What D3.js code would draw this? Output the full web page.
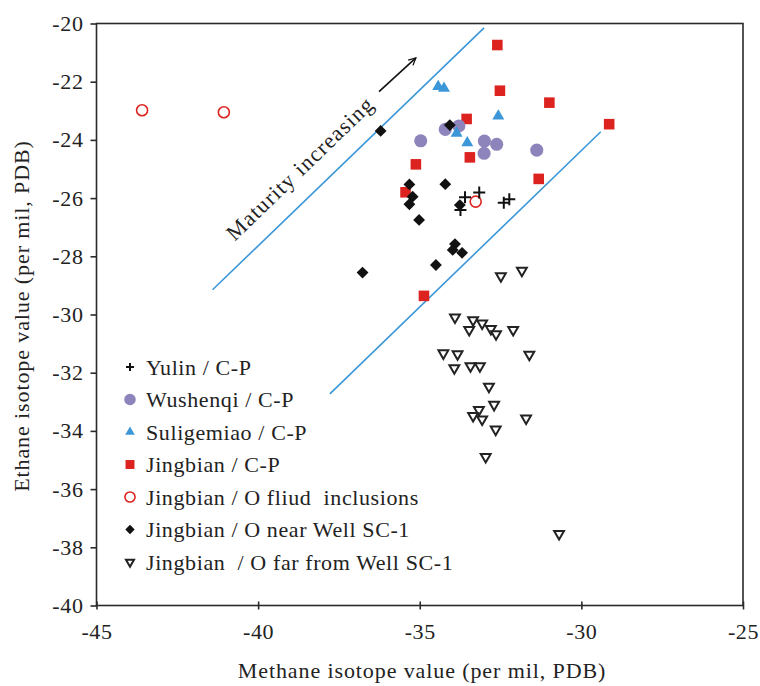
<!DOCTYPE html>
<html lang="en">
<head>
<meta charset="utf-8">
<title>Methane vs ethane isotope</title>
<script src="https://d3js.org/d3.v7.min.js"></script>
<style>
  body { margin: 0; background: #fff; }
  text { font-family: "Liberation Serif", "Times New Roman", serif; fill: #222; }
</style>
</head>
<body>
<script>
// ---- data (methane d13C, ethane d13C) ----
var yulinX = [-33.60, -33.16, -33.74, -32.40, -32.23];
var yulinY = [-25.97, -25.81, -26.41, -26.16, -26.04];

var wushenqiX = [-34.97, -34.21, -33.79, -33.00, -32.62, -33.01, -31.38];
var wushenqiY = [-24.03, -23.64, -23.52, -24.04, -24.15, -24.46, -24.35];

var suligemiaoX = [-34.43, -34.25, -32.57, -33.86, -33.53];
var suligemiaoY = [-22.17, -22.23, -23.18, -23.77, -24.10];

var jingbianCPX = [-32.60, -32.52, -30.99, -33.55, -33.45, -35.12, -31.32, -35.44, -34.87, -29.14];
var jingbianCPY = [-20.74, -22.31, -22.72, -23.28, -24.60, -24.84, -25.34, -25.80, -29.36, -23.46];

var inclusionX = [-43.59, -41.06, -33.27];
var inclusionY = [-22.98, -23.05, -26.12];

var nearX = [-36.21, -34.07, -35.32, -34.21, -35.22, -35.32, -35.02, -33.91, -33.98, -33.69, -34.50, -36.77, -33.76];
var nearY = [-23.69, -23.49, -25.53, -25.52, -25.95, -26.21, -26.75, -27.58, -27.78, -27.88, -28.30, -28.56, -26.24];

var farX = [-32.49, -31.84, -33.91, -33.35, -33.07, -33.47, -32.80, -32.64, -32.11, -34.27, -33.83, -33.93,
            -33.43, -33.14, -31.61, -32.86, -32.70, -33.17, -33.35, -33.07, -32.65, -31.71, -32.96, -30.69];
var farY = [-28.68, -28.49, -30.10, -30.19, -30.30, -30.53, -30.49, -30.67, -30.53, -31.33, -31.36, -31.84,
            -31.77, -31.77, -31.38, -32.48, -33.10, -33.28, -33.48, -33.60, -33.95, -33.57, -34.89, -37.54];

var xTicks = [-45, -40, -35, -30, -25];
var yTicks = [-40, -38, -36, -34, -32, -30, -28, -26, -24, -22, -20];

// maturity trend lines [x1, y1, x2, y2]
var upperLine = [-41.41, -29.15, -33.01, -20.15];
var lowerLine = [-37.78, -32.73, -29.40, -23.72];
var arrowLine = [-36.26, -22.34, -35.12, -21.18];

var legendNames = ['Yulin / C-P', 'Wushenqi / C-P', 'Suligemiao / C-P', 'Jingbian / C-P',
  'Jingbian / O fliud  inclusions', 'Jingbian / O near Well SC-1', 'Jingbian  / O far from Well SC-1'];

// ---- layout ----
var W = 760, H = 686;
var margin = {top: 23.5, right: 17, bottom: 80.5, left: 96.5};
var innerW = W - margin.left - margin.right;
var innerH = H - margin.top - margin.bottom;

var svg = d3.select('body').append('svg')
    .attr('width', W)
    .attr('height', H);

var g = svg.append('g')
    .attr('transform', 'translate(' + [margin.left, margin.top] + ')');

var x = d3.scaleLinear().domain([-45, -25]).range([0, innerW]);
var y = d3.scaleLinear().domain([-40, -20]).range([innerH, 0]);

var axisColor = '#2a2a2a';
var fmt = function(d) { return String(d); };   // plain hyphen, not U+2212

// frame
g.append('rect')
    .attr('width', innerW)
    .attr('height', innerH)
    .attr('fill', 'none')
    .attr('stroke', axisColor)
    .attr('stroke-width', 1.6);

// x axis
var xAxis = g.append('g')
    .attr('transform', 'translate(0,' + innerH + ')')
    .call(d3.axisBottom(x).tickValues(xTicks).tickSize(4).tickPadding(14).tickFormat(fmt));
xAxis.select('.domain').remove();
xAxis.selectAll('.tick line').attr('y1', -4).attr('stroke', axisColor).attr('stroke-width', 1.6);
xAxis.selectAll('.tick text').attr('font-size', 22).attr('letter-spacing', 0.6).attr('fill', '#222')
    .style('font-family', '"Liberation Serif", serif');

// y axis
var yAxis = g.append('g')
    .call(d3.axisLeft(y).tickValues(yTicks).tickSize(6).tickPadding(7).tickFormat(fmt));
yAxis.select('.domain').remove();
yAxis.selectAll('.tick line').attr('stroke', axisColor).attr('stroke-width', 1.6);
yAxis.selectAll('.tick text').attr('font-size', 22).attr('letter-spacing', 0.6).attr('fill', '#222')
    .style('font-family', '"Liberation Serif", serif');

// axis titles
svg.append('text')
    .attr('x', 422).attr('y', 678)
    .attr('text-anchor', 'middle')
    .attr('font-size', 22)
    .attr('letter-spacing', 0.9)
    .style('white-space', 'pre')
    .text('Methane isotope value (per mil, PDB)');

svg.append('text')
    .attr('transform', 'translate(29,316) rotate(-90)')
    .attr('text-anchor', 'middle')
    .attr('font-size', 22)
    .attr('letter-spacing', 0.9)
    .text('Ethane isotope value (per mil, PDB)');

// trend lines
var blue = '#3b97d8';
[upperLine, lowerLine].forEach(function(l) {
  g.append('line')
      .attr('x1', x(l[0])).attr('y1', y(l[1]))
      .attr('x2', x(l[2])).attr('y2', y(l[3]))
      .attr('stroke', blue)
      .attr('stroke-width', 1.6);
});

// arrow
svg.append('defs').append('marker')
    .attr('id', 'head')
    .attr('viewBox', '0 0 10 10')
    .attr('refX', 9).attr('refY', 5)
    .attr('markerWidth', 9).attr('markerHeight', 9)
    .attr('markerUnits', 'userSpaceOnUse')
    .attr('orient', 'auto')
  .append('path')
    .attr('d', 'M1,1 L9,5 L1,9')
    .attr('fill', 'none')
    .attr('stroke', '#111')
    .attr('stroke-width', 1.4);

g.append('line')
    .attr('x1', x(arrowLine[0])).attr('y1', y(arrowLine[1]))
    .attr('x2', x(arrowLine[2])).attr('y2', y(arrowLine[3]))
    .attr('stroke', '#111')
    .attr('stroke-width', 1.6)
    .attr('marker-end', 'url(#head)');

g.append('text')
    .attr('transform', 'translate(' + [x(-38.71), y(-24.97)] + ') rotate(-44)')
    .attr('text-anchor', 'middle')
    .attr('dy', '0.35em')
    .attr('font-size', 22)
    .attr('letter-spacing', 1.2)
    .text('Maturity increasing');

// ---- markers ----
var red = '#dd2320', purple = '#8e84bc';

var styles = [
  {type: 'cross', r: 6, fill: 'none', stroke: '#111', sw: 2},
  {type: d3.symbolCircle, size: 135, fill: purple, stroke: 'none', sw: 0},
  {type: d3.symbolTriangle, size: 62, fill: blue, stroke: 'none', sw: 0},
  {type: d3.symbolSquare, size: 112, fill: red, stroke: 'none', sw: 0},
  {type: d3.symbolCircle, size: 95, fill: 'none', stroke: red, sw: 1.6},
  {type: 'diamond', size: 70, fill: '#111', stroke: 'none', sw: 0},
  {type: 'down', size: 42, fill: '#fff', stroke: '#222', sw: 2}
];

var legendStyles = [
  {type: 'cross', r: 4, fill: 'none', stroke: '#111', sw: 2},
  {type: d3.symbolCircle, size: 105, fill: purple, stroke: 'none', sw: 0},
  {type: d3.symbolTriangle, size: 40, fill: blue, stroke: 'none', sw: 0},
  {type: d3.symbolSquare, size: 80, fill: red, stroke: 'none', sw: 0},
  {type: d3.symbolCircle, size: 80, fill: 'none', stroke: red, sw: 1.6},
  {type: 'diamond', size: 44, fill: '#111', stroke: 'none', sw: 0},
  {type: 'down', size: 28, fill: '#fff', stroke: '#222', sw: 2}
];

function drawMark(sel, st) {
  if (st.type === 'cross') {
    var r = st.r;
    sel.append('path')
        .attr('d', 'M' + (-r) + ',0H' + r + 'M0,' + (-r) + 'V' + r)
        .attr('fill', 'none')
        .attr('stroke', st.stroke)
        .attr('stroke-width', st.sw);
    return;
  }
  var sym = st.type, rot = 0;
  if (st.type === 'diamond') { sym = d3.symbolSquare; rot = 45; }
  if (st.type === 'down') { sym = d3.symbolTriangle; rot = 180; }
  sel.append('path')
      .attr('d', d3.symbol().type(sym).size(st.size)())
      .attr('transform', rot ? 'rotate(' + rot + ')' : null)
      .attr('fill', st.fill)
      .attr('stroke', st.stroke)
      .attr('stroke-width', st.sw);
}

var series = [
  [yulinX, yulinY], [wushenqiX, wushenqiY], [suligemiaoX, suligemiaoY],
  [jingbianCPX, jingbianCPY], [inclusionX, inclusionY], [nearX, nearY], [farX, farY]
];

// drawing order roughly as in the source figure
var order = [6, 3, 1, 2, 5, 4, 0];
order.forEach(function(i) {
  var xs = series[i][0], ys = series[i][1];
  var pts = xs.map(function(v, k) { return [v, ys[k]]; });
  g.append('g').attr('class', 'series-' + i)
    .selectAll('g.pt')
      .data(pts)
    .enter().append('g')
      .attr('class', 'pt')
      .attr('transform', function(d) { return 'translate(' + [x(d[0]), y(d[1])] + ')'; })
      .each(function() { drawMark(d3.select(this), styles[i]); });
});

// ---- legend ----
var legend = svg.append('g').attr('transform', 'translate(130,367)');
var rowH = 32.5;
legendNames.forEach(function(name, i) {
  var row = legend.append('g').attr('transform', 'translate(0,' + (i * rowH) + ')');
  drawMark(row, legendStyles[i]);
  row.append('text')
      .attr('x', 16)
      .attr('dy', '0.35em')
      .attr('font-size', 22)
      .attr('letter-spacing', 0.6)
      .style('white-space', 'pre')
      .text(name);
});
</script>
</body>
</html>
